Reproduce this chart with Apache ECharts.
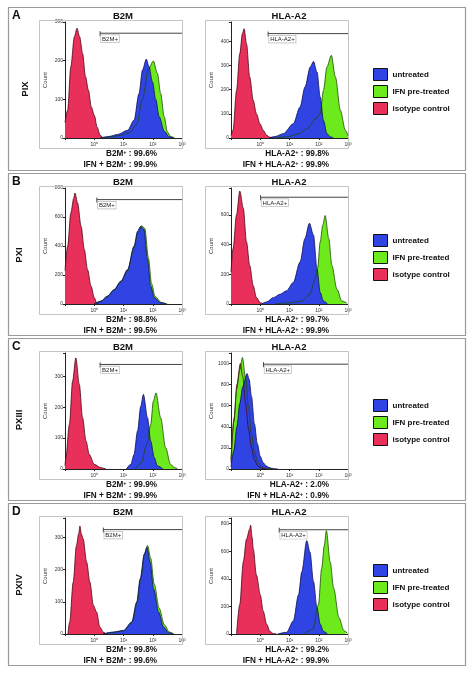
<!DOCTYPE html>
<html><head><meta charset="utf-8">
<script src="https://cdn.jsdelivr.net/npm/echarts@6/dist/echarts.min.js"></script>
<style>html,body{margin:0;padding:0;background:#fff}#c{width:474px;height:673px}</style>
</head><body><div id="c"></div>
<script>
// ---------- labels ----------
const PANEL_LETTERS = ['A', 'B', 'C', 'D'];
const SAMPLES = ['PIX', 'PXI', 'PXIII', 'PXIV'];
const MARKERS = ['B2M', 'HLA-A2'];
const SERIES_NAMES = ['untreated', 'IFN pre-treated', 'isotype control'];
const X_TICK_LABELS = ['10\u2070', '10\u00b9', '10\u00b2', '10\u00b3'];

// ---------- y axis scales ----------
const B2M_YMAX = [300, 800, 375, 360];
const B2M_YSTEP = [100, 200, 100, 100];
const HLA_YMAX = [480, 780, 1100, 840];
const HLA_YSTEP = [100, 200, 200, 200];

// ---------- percentages ----------
const B2M_PCT = ['99.6%', '98.8%', '99.9%', '99.8%'];
const B2M_IFN_PCT = ['99.9%', '99.5%', '99.9%', '99.6%'];
const HLA_PCT = ['99.8%', '99.7%', '2.0%', '99.2%'];
const HLA_IFN_PCT = ['99.9%', '99.9%', '0.9%', '99.9%'];

// ---------- gates [log10 start, count level] ----------
const B2M_GATE = [[0.2, 271], [0.09, 720], [0.2, 338], [0.31, 324]];
const HLA_GATE = [[0.27, 432], [0.01, 718], [0.11, 994], [0.65, 755]];

// ---------- histograms: [log10 fluorescence, count] ----------
const PIX_B2M_ISO = [[-1.0,40],[-0.91,72],[-0.8,185],[-0.68,262],[-0.59,284],[-0.5,262],[-0.4,219],[-0.3,159],[-0.2,124],[-0.1,80],[0.0,59],[0.1,28],[0.2,7],[0.3,0]];
const PIX_B2M_UNT = [[0.2,0],[0.5,4],[0.8,9],[1.14,20],[1.36,46],[1.53,115],[1.65,176],[1.78,204],[1.87,185],[1.99,145],[2.1,100],[2.22,55],[2.39,18],[2.56,3],[2.7,0]];
const PIX_B2M_IFN = [[0.3,0],[0.6,3],[0.9,7],[1.2,14],[1.45,35],[1.65,100],[1.85,178],[2.02,199],[2.16,167],[2.27,115],[2.39,55],[2.5,16],[2.61,4],[2.75,0]];

const PIX_HLA_ISO = [[-1.0,10],[-0.93,32],[-0.81,197],[-0.7,349],[-0.61,432],[-0.55,452],[-0.47,390],[-0.36,252],[-0.24,156],[-0.13,100],[-0.01,59],[0.1,32],[0.22,11],[0.33,3],[0.45,0]];
const PIX_HLA_UNT = [[0.3,0],[0.5,6],[0.79,18],[1.13,59],[1.36,128],[1.53,211],[1.71,294],[1.82,317],[1.94,273],[2.05,170],[2.16,73],[2.28,18],[2.39,5],[2.5,0]];
const PIX_HLA_IFN = [[0.5,0],[0.9,5],[1.3,16],[1.6,38],[1.9,80],[2.05,100],[2.16,197],[2.28,294],[2.43,342],[2.57,252],[2.74,114],[2.91,32],[3.0,10]];

const PXI_B2M_ISO = [[-1.0,230],[-0.91,399],[-0.8,628],[-0.7,731],[-0.66,765],[-0.57,697],[-0.45,536],[-0.34,376],[-0.23,238],[-0.11,124],[0.0,44],[0.09,5],[0.15,0]];
const PXI_B2M_UNT = [[0.0,0],[0.23,20],[0.45,55],[0.68,100],[0.91,158],[1.14,238],[1.36,400],[1.48,502],[1.59,536],[1.7,513],[1.82,307],[1.93,124],[2.05,44],[2.27,9],[2.45,0]];
const PXI_B2M_IFN = [[0.0,0],[0.23,18],[0.45,50],[0.68,95],[0.91,150],[1.14,228],[1.36,385],[1.5,495],[1.62,540],[1.73,520],[1.85,320],[1.96,140],[2.08,52],[2.3,10],[2.5,0]];

const PXI_HLA_ISO = [[-1.0,214],[-0.93,373],[-0.81,600],[-0.7,759],[-0.58,645],[-0.47,418],[-0.36,259],[-0.24,123],[-0.13,43],[0.0,9],[0.1,0]];
const PXI_HLA_UNT = [[0.05,0],[0.22,14],[0.45,43],[0.68,66],[0.9,89],[1.13,145],[1.36,282],[1.53,441],[1.68,543],[1.82,464],[1.94,236],[2.05,77],[2.16,20],[2.3,0]];
const PXI_HLA_IFN = [[0.5,0],[1.0,8],[1.4,19],[1.7,65],[1.88,170],[1.96,240],[2.05,418],[2.14,532],[2.22,595],[2.34,441],[2.45,259],[2.62,100],[2.79,20],[2.97,5]];

const PXIII_B2M_ISO = [[-1.0,10],[-0.97,37],[-0.85,144],[-0.74,284],[-0.63,359],[-0.51,273],[-0.4,166],[-0.28,90],[-0.17,47],[0.0,15],[0.23,4],[0.4,0]];
const PXIII_B2M_UNT = [[1.1,0],[1.25,15],[1.36,47],[1.48,123],[1.59,203],[1.68,241],[1.82,166],[1.93,90],[2.05,37],[2.16,10],[2.35,0]];
const PXIII_B2M_IFN = [[1.4,0],[1.6,18],[1.8,80],[1.93,144],[2.02,219],[2.11,246],[2.27,166],[2.44,69],[2.61,15],[2.73,5],[2.85,0]];

const PXIII_HLA_ISO = [[-1.0,60],[-0.9,450],[-0.8,800],[-0.68,1000],[-0.6,880],[-0.5,620],[-0.4,380],[-0.3,200],[-0.2,90],[-0.1,35],[0.0,12],[0.1,3],[0.2,0]];
const PXIII_HLA_UNT = [[-1.0,20],[-0.9,180],[-0.8,400],[-0.7,620],[-0.6,780],[-0.45,905],[-0.38,850],[-0.3,690],[-0.2,430],[-0.1,240],[0.0,120],[0.1,60],[0.2,30],[0.3,15],[0.4,6],[0.5,2],[0.6,0]];
const PXIII_HLA_IFN = [[-1.0,90],[-0.9,480],[-0.8,760],[-0.7,940],[-0.61,1057],[-0.5,860],[-0.4,580],[-0.3,330],[-0.2,160],[-0.1,70],[0.0,30],[0.1,12],[0.2,5],[0.4,0]];

const PXIV_B2M_ISO = [[-0.9,0],[-0.84,37],[-0.72,161],[-0.61,274],[-0.53,312],[-0.49,335],[-0.44,310],[-0.38,295],[-0.26,223],[-0.15,161],[-0.03,89],[0.08,68],[0.19,22],[0.31,6],[0.4,0]];
const PXIV_B2M_UNT = [[0.3,0],[0.65,6],[1.0,11],[1.28,37],[1.45,99],[1.57,171],[1.71,248],[1.8,269],[1.91,223],[2.03,140],[2.2,68],[2.37,22],[2.54,4],[2.7,0]];
const PXIV_B2M_IFN = [[0.3,0],[0.65,5],[1.0,10],[1.3,36],[1.47,98],[1.59,172],[1.73,250],[1.82,275],[1.93,235],[2.05,155],[2.22,80],[2.4,28],[2.57,6],[2.72,0]];

const PXIV_HLA_ISO = [[-0.81,0],[-0.7,214],[-0.58,522],[-0.47,688],[-0.36,760],[-0.33,788],[-0.28,700],[-0.24,617],[-0.13,427],[0.0,285],[0.1,166],[0.22,71],[0.33,19],[0.45,3],[0.55,0]];
const PXIV_HLA_UNT = [[0.6,0],[0.9,12],[1.13,95],[1.31,285],[1.42,451],[1.59,676],[1.7,593],[1.82,380],[1.94,190],[2.05,71],[2.16,19],[2.3,0]];
const PXIV_HLA_IFN = [[1.5,0],[1.8,35],[1.99,214],[2.1,475],[2.19,641],[2.26,748],[2.39,522],[2.51,332],[2.69,119],[2.86,24],[2.98,5]];

// [panel][marker] -> {unt, ifn, iso}
const CURVES = [
  [{unt: PIX_B2M_UNT, ifn: PIX_B2M_IFN, iso: PIX_B2M_ISO}, {unt: PIX_HLA_UNT, ifn: PIX_HLA_IFN, iso: PIX_HLA_ISO}],
  [{unt: PXI_B2M_UNT, ifn: PXI_B2M_IFN, iso: PXI_B2M_ISO}, {unt: PXI_HLA_UNT, ifn: PXI_HLA_IFN, iso: PXI_HLA_ISO}],
  [{unt: PXIII_B2M_UNT, ifn: PXIII_B2M_IFN, iso: PXIII_B2M_ISO}, {unt: PXIII_HLA_UNT, ifn: PXIII_HLA_IFN, iso: PXIII_HLA_ISO}],
  [{unt: PXIV_B2M_UNT, ifn: PXIV_B2M_IFN, iso: PXIV_B2M_ISO}, {unt: PXIV_HLA_UNT, ifn: PXIV_HLA_IFN, iso: PXIV_HLA_ISO}]
];

// ---------- styling / layout ----------
const FONT = 'Liberation Sans, Arial, sans-serif';
const FILL = {unt: '#3044e4', ifn: '#6cea1c', iso: '#e8305a'};
const EDGE = {unt: '#0e0e55', ifn: '#1f4a08', iso: '#4a0616'};
const NAME = {unt: SERIES_NAMES[0], ifn: SERIES_NAMES[1], iso: SERIES_NAMES[2]};
const BOX_TOP = [7, 173, 338, 503];
const BOX_BOTTOM = [170, 335, 500, 665];
const GRID_LEFT = [65, 231];
const GRID_W = 117, GRID_H = 116;
const SAMPLE_X = [25, 19, 19, 19];

const grids = [], xAxes = [], yAxes = [], series = [], graphics = [], legends = [];

for (let p = 0; p < 4; p++) {
  const top = BOX_TOP[p];
  graphics.push({type: 'rect', shape: {x: 8.5, y: top + 0.5, width: 457, height: BOX_BOTTOM[p] - top}, style: {fill: 'none', stroke: '#9a9a9a', lineWidth: 1.2}, z: 1});
  graphics.push({type: 'text', x: 12, y: top + 3, style: {text: PANEL_LETTERS[p], font: 'bold 12px ' + FONT, fill: '#111', align: 'left', verticalAlign: 'top'}});
  graphics.push({type: 'text', x: SAMPLE_X[p], y: top + 82, rotation: Math.PI / 2, style: {text: SAMPLES[p], font: 'bold 9.5px ' + FONT, fill: '#111', align: 'center', verticalAlign: 'middle'}});

  for (let m = 0; m < 2; m++) {
    const g = p * 2 + m;
    const ymax = m === 0 ? B2M_YMAX[p] : HLA_YMAX[p];
    const step = m === 0 ? B2M_YSTEP[p] : HLA_YSTEP[p];
    const left = GRID_LEFT[m];
    grids.push({left: left, top: top + 15, width: GRID_W, height: GRID_H});
    xAxes.push({
      type: 'value', gridIndex: g, min: -1, max: 3, interval: 1,
      axisLine: {show: true, onZero: false, lineStyle: {color: '#222', width: 1}},
      axisTick: {show: true, length: 2, lineStyle: {color: '#222'}},
      axisLabel: {fontSize: 5, color: '#333', margin: 4, fontFamily: FONT,
        formatter: v => (v < 0 ? '' : X_TICK_LABELS[Math.round(v)])},
      splitLine: {show: false}
    });
    yAxes.push({
      type: 'value', gridIndex: g, min: 0, max: ymax, interval: step,
      name: 'Count', nameLocation: 'middle', nameGap: 17, nameRotate: 90,
      nameTextStyle: {fontSize: 6, color: '#333', fontFamily: FONT},
      axisLine: {show: true, onZero: false, lineStyle: {color: '#222', width: 1}},
      axisTick: {show: true, length: 2, lineStyle: {color: '#222'}},
      axisLabel: {fontSize: 5, color: '#333', margin: 2, fontFamily: FONT,
        formatter: v => (v % step === 0 ? String(v) : '')},
      splitLine: {show: false}
    });
    // light plot frame
    graphics.push({type: 'rect', shape: {x: left - 26 + 0.5, y: top + 13 + 0.5, width: GRID_W + 26, height: 128}, style: {fill: 'none', stroke: '#c4c4c4', lineWidth: 1}, z: 1});
    // title
    graphics.push({type: 'text', x: left + 58, y: top + 9, style: {text: MARKERS[m], font: 'bold 9.5px ' + FONT, fill: '#111', align: 'center', verticalAlign: 'middle'}});
    // percentages
    const pct = m === 0 ? B2M_PCT[p] : HLA_PCT[p];
    const ifnPct = m === 0 ? B2M_IFN_PCT[p] : HLA_IFN_PCT[p];
    const rich = {b: {fontSize: 8.2, fontWeight: 'bold', fontFamily: FONT, fill: '#111', color: '#111', lineHeight: 10},
                  s: {fontSize: 5.5, fontWeight: 'bold', fontFamily: FONT, fill: '#111', color: '#111', lineHeight: 10, verticalAlign: 'top'}};
    const rx = m === 0 ? 157 : 329;
    graphics.push({type: 'text', x: rx, y: top + 147, style: {text: '{b|' + MARKERS[m] + '}{s|+}{b| : ' + pct + '}', rich: rich, align: 'right', verticalAlign: 'middle'}});
    graphics.push({type: 'text', x: rx, y: top + 158, style: {text: '{b|IFN + ' + MARKERS[m] + '}{s|+}{b| : ' + ifnPct + '}', rich: rich, align: 'right', verticalAlign: 'middle'}});

    const c = CURVES[p][m];
    ['iso', 'ifn', 'unt'].forEach(k => {
      series.push({
        type: 'line', name: NAME[k], xAxisIndex: g, yAxisIndex: g, data: c[k],
        symbol: 'none', showSymbol: false, smooth: 0.3, smoothMonotone: 'x',
        lineStyle: {color: EDGE[k], width: 0.8}, itemStyle: {color: FILL[k]},
        areaStyle: {color: FILL[k], opacity: 1}, silent: true, animation: false
      });
    });
    const gate = m === 0 ? B2M_GATE[p] : HLA_GATE[p];
    const gateLabel = MARKERS[m] + '+';
    series.push({
      type: 'custom', xAxisIndex: g, yAxisIndex: g, data: [gate], silent: true, animation: false,
      renderItem: (params, api) => {
        const a = api.coord([api.value(0), api.value(1)]);
        const b = api.coord([3, api.value(1)]);
        return {type: 'group', children: [
          {type: 'line', shape: {x1: a[0], y1: a[1], x2: b[0], y2: b[1]}, style: {stroke: '#444', lineWidth: 1}},
          {type: 'line', shape: {x1: a[0], y1: a[1] - 2, x2: a[0], y2: a[1] + 3}, style: {stroke: '#444', lineWidth: 1}},
          {type: 'text', x: a[0] + 1, y: a[1] + 2, style: {text: gateLabel, font: '6px ' + FONT, fill: '#222', backgroundColor: '#fff', borderColor: '#aaa', borderWidth: 0.6, padding: [1, 1, 0, 1], align: 'left', verticalAlign: 'top'}}
        ]};
      }
    });
  }

  legends.push({
    orient: 'vertical', left: 368, top: top + 56, itemWidth: 14, itemHeight: 12, itemGap: 4,
    icon: 'rect', selectedMode: false,
    textStyle: {fontSize: 8, fontWeight: 'bold', color: '#111', fontFamily: FONT},
    data: ['unt', 'ifn', 'iso'].map(k => ({name: NAME[k], itemStyle: {color: FILL[k], borderColor: '#111', borderWidth: 1}}))
  });
}

const chart = echarts.init(document.getElementById('c'), null, {renderer: 'canvas'});
chart.setOption({
  backgroundColor: '#fff', animation: false,
  textStyle: {fontFamily: FONT},
  grid: grids, xAxis: xAxes, yAxis: yAxes, series: series, legend: legends,
  graphic: {elements: graphics}
});
</script></body></html>
